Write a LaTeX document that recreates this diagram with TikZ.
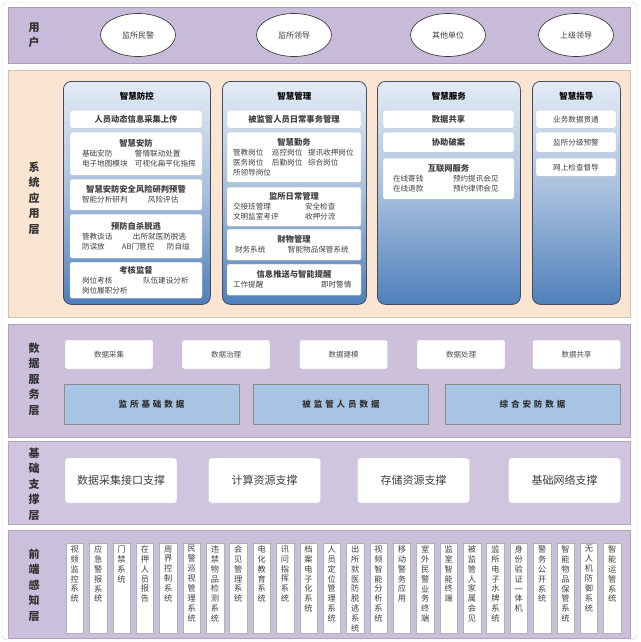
\documentclass[tikz,border=0pt]{standalone}
\usepackage{fontspec}
\setmainfont{Noto Sans CJK SC}
\newfontfamily\spaced[LetterSpace=35]{Noto Sans CJK SC}
\usetikzlibrary{positioning,shapes.geometric}
\definecolor{userbg}{HTML}{C8BBD9}
\definecolor{appbg}{HTML}{FAE4D2}
\definecolor{databg}{HTML}{CCC0DB}
\definecolor{basebg}{HTML}{D0C5DE}
\definecolor{frontbg}{HTML}{CBC0DB}
\definecolor{coltop}{HTML}{E3EBF5}
\definecolor{colmid}{HTML}{A6BFDD}
\definecolor{colbot}{HTML}{4F7FBA}
\definecolor{colline}{HTML}{434C5E}
\definecolor{bluebox}{HTML}{A8C4E4}
\makeatletter
\def\shu#1{\expandafter\shu@a#1\@nil}
\def\shu@a#1#2\@nil{#1\if\relax\detokenize{#2}\relax\expandafter\@gobble\else\expandafter\@firstofone\fi{\\\shu@a#2\@nil}}
\makeatother
\newcommand\cell[2]{\makebox[#1][l]{#2}}
\newcommand\bt[1]{\makebox[\hsize]{\bfseries\fontsize{8.3}{10}\selectfont #1}}
\newcommand\ct[1]{\makebox[\hsize]{#1}}
\begin{document}
\begin{tikzpicture}[x=1pt,y=-1pt]
  \tikzset{band/.style={anchor=north west,minimum width=622pt,inner sep=0pt,draw=#1!85!black,fill=#1,line width=0.4pt},
    lyr/.style={align=center,font=\bfseries\fontsize{11}{15.5}\selectfont,text=black!80},
    usr/.style={ellipse,draw=black!75,fill=white,line width=0.7pt,minimum width=75pt,minimum height=43pt,inner sep=0pt,font=\fontsize{8}{10}\selectfont,text=black!75},
    col/.style={anchor=north west,minimum height=223pt,rounded corners=8pt,draw=colline,line width=0.8pt,top color=coltop,bottom color=colbot,middle color=colmid},
    ctitle/.style={inner sep=0pt,font=\bfseries\fontsize{8.5}{10}\selectfont},
    ibox/.style={anchor=north,fill=white,draw=gray!45,rounded corners=2pt,inner xsep=3pt,inner ysep=1pt,align=left,font=\fontsize{7.6}{10}\selectfont,text=black!75},
    dbox/.style={draw=gray!50,fill=white,rounded corners=2pt,minimum width=88pt,minimum height=29pt,font=\fontsize{7.5}{9}\selectfont,text=black!70},
    bbox/.style={draw=black!45,fill=bluebox,minimum width=175pt,minimum height=40pt,font=\spaced\bfseries\fontsize{8.5}{10}\selectfont,text=black!80},
    sbox/.style={draw=gray!40,fill=white,rounded corners=3pt,minimum width=112pt,minimum height=45pt,font=\fontsize{11}{13}\selectfont,text=black!75},
    fbox/.style={draw=gray!60,fill=white,minimum width=17.5pt,minimum height=90pt,inner sep=0pt},
    ftxt/.style={align=center,inner xsep=2pt,inner ysep=2.5pt,font=\fontsize{8.2}{9.9}\selectfont,text=black!75}}
  \useasboundingbox (0,0) rectangle (640,642);
  \draw[draw=gray!35,fill=white,rounded corners=5pt] (2,2) rectangle (637,640);

  % layers
  \node[band=userbg,minimum height=56pt] (user) at (8,7) {};
  \node[band=appbg,minimum height=247pt] (app) at (8,70) {};
  \node[band=databg,minimum height=113pt] (data) at (8,324) {};
  \node[band=basebg,minimum height=83pt] (base) at (8,441) {};
  \node[band=frontbg,minimum height=108pt] (front) at (8,530) {};
  \node[lyr] (l1) at (34,35) {\shu{用户}};
  \node[lyr] (l2) at (34,198) {\shu{系统应用层}};
  \node[lyr] (l3) at (34,379) {\shu{数据服务层}};
  \node[lyr] (l4) at (34,484) {\shu{基础支撑层}};
  \node[lyr] (l5) at (34,585) {\shu{前端感知层}};

  % users
  \foreach \x/\lbl [count=\i] in {138/监所民警,294/监所领导,448/其他单位,576/上级领导}
    \node[usr] (u\i) at (\x,35) {\lbl};

  % application columns
  \node[col,minimum width=147pt] (c1) at (63,81) {};
  \node[col,minimum width=144pt] (c2) at (222,81) {};
  \node[col,minimum width=143pt] (c3) at (377,81) {};
  \node[col,minimum width=88pt] (c4) at (532,81) {};
  \node[ctitle,below=11pt of c1.north] (c1t) {智慧防控};
  \node[ctitle,below=11pt of c2.north] (c2t) {智慧管理};
  \node[ctitle,below=11pt of c3.north] (c3t) {智慧服务};
  \node[ctitle,below=11pt of c4.north] (c4t) {智慧指导};

  \node[ibox,text width=126pt,minimum height=18pt] (b11) at (136,110) {\bt{人员动态信息采集上传}};
  \node[ibox,text width=126pt,minimum height=43pt] (b12) at (136,132) {\bt{智慧安防}\\
    \hspace*{9pt}\cell{53pt}{基础安防}警情联动处置\\
    \hspace*{9pt}\cell{53pt}{电子地图模块}可视化扁平化指挥};
  \node[ibox,text width=126pt,minimum height=31pt] (b13) at (136,179) {\bt{智慧安防安全风险研判预警}\\
    \hspace*{9pt}\cell{66pt}{智能分析研判}风险评估};
  \node[ibox,text width=126pt,minimum height=44pt] (b14) at (136,214) {\bt{预防自杀脱逃}\\
    \hspace*{9pt}\cell{51pt}{管教谈话}出所就医防脱逃\\
    \hspace*{9pt}\cell{40pt}{防误放}\cell{45pt}{AB门管控}防自缢};
  \node[ibox,text width=126pt,minimum height=36pt] (b15) at (136,262) {\bt{考核监督}\\
    \hspace*{9pt}\cell{61pt}{岗位考核}队伍建设分析\\
    \hspace*{9pt}岗位履职分析};

  \node[ibox,text width=128pt,minimum height=18pt] (b21) at (294,110) {\bt{被监管人员日常事务管理}};
  \node[ibox,text width=128pt,minimum height=50pt] (b22) at (294,132) {\bt{智慧勤务}\\
    \hspace*{3pt}\cell{39pt}{管教岗位}\cell{36pt}{巡控岗位}提讯收押岗位\\
    \hspace*{3pt}\cell{39pt}{医务岗位}\cell{36pt}{后勤岗位}综合岗位\\
    \hspace*{3pt}所领导岗位};
  \node[ibox,text width=128pt,minimum height=39pt] (b23) at (294,187) {\bt{监所日常管理}\\
    \hspace*{3pt}\cell{72pt}{交接班管理}安全检查\\
    \hspace*{3pt}\cell{72pt}{文明监室考评}收押分流};
  \node[ibox,text width=128pt,minimum height=31pt] (b24) at (294,229) {\bt{财物管理}\\
    \hspace*{5pt}\cell{53pt}{财务系统}智能物品保管系统};
  \node[ibox,text width=128pt,minimum height=31pt] (b25) at (294,264) {\bt{信息推送与智能提醒}\\
    \hspace*{3pt}\cell{88pt}{工作提醒}即时警情};

  \node[ibox,text width=125pt,minimum height=18pt] (b31) at (448.5,110) {\bt{数据共享}};
  \node[ibox,text width=125pt,minimum height=20pt] (b32) at (448.5,132) {\bt{协助破案}};
  \node[ibox,text width=125pt,minimum height=41pt] (b33) at (448.5,158) {\bt{互联网服务}\\
    \hspace*{7pt}\cell{60pt}{在线寄钱}预约提讯会见\\
    \hspace*{7pt}\cell{60pt}{在线退款}预约律师会见};

  \node[ibox,text width=74pt,minimum height=18pt] (b41) at (576,110) {\ct{业务数据贯通}};
  \node[ibox,text width=74pt,minimum height=20pt] (b42) at (576,132) {\ct{监所分级预警}};
  \node[ibox,text width=74pt,minimum height=18pt] (b43) at (576,158) {\ct{网上检查督导}};

  % data services
  \foreach \x/\lbl [count=\i] in {109/数据采集,226/数据治理,343.5/数据建模,461/数据处理,576.5/数据共享}
    \node[dbox] (d\i) at (\x,354.5) {\lbl};
  \foreach \x/\lbl [count=\i] in {151.5/监所基础数据,341/被监管人员数据,532.5/综合安防数据}
    \node[bbox] (k\i) at (\x,404) {\lbl};

  % support
  \foreach \x/\lbl [count=\i] in {121/数据采集接口支撑,264.5/计算资源支撑,413.5/存储资源支撑,564.5/基础网络支撑}
    \node[sbox] (s\i) at (\x,480.5) {\lbl};

  % front end
  \foreach \lbl [count=\i] in {视频监控系统,应急警报系统,门禁系统,在押人员报告,周界控制系统,民警巡视管理系统,违禁物品检测系统,会见管理系统,电化教育系统,讯问指挥系统,档案电子化系统,人员定位管理系统,出所就医防脱逃系统,视频智能分析系统,移动警务应用,室外民警业务终端,监室智能终端,被监管人家属会见,监所电子水牌系统,身份验证一体机,警务公开系统,智能物品保管系统,无人机防御系统,智能运管系统}{
    \node[fbox] (f\i) at ({74.75+23.37*(\i-1)},588) {};
    \node[ftxt,below=0pt of f\i.north] (ft\i) {\shu{\lbl}};
  }
\end{tikzpicture}
\end{document}
